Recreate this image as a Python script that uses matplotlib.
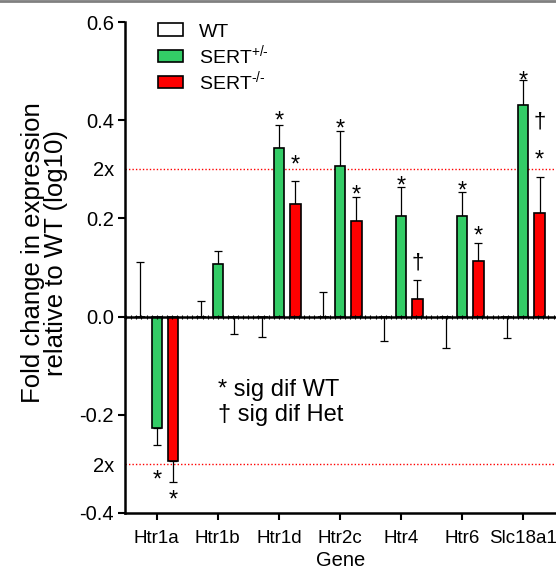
import numpy as np
import matplotlib
matplotlib.use('Agg')
import matplotlib.pyplot as plt
from matplotlib.lines import Line2D
from matplotlib.ticker import MultipleLocator, NullFormatter

plt.rcParams['font.family'] = ['Liberation Sans', 'DejaVu Sans']
plt.rcParams['mathtext.fontset'] = 'custom'
plt.rcParams['mathtext.rm'] = 'Liberation Sans'
plt.rcParams['axes.unicode_minus'] = False

genes = ['Htr1a', 'Htr1b', 'Htr1d', 'Htr2c', 'Htr4', 'Htr6', 'Slc18a1']
# log10 fold change; signed error = one-sided bar direction
wt_mean = [0, 0, 0, 0, 0, 0, 0]
wt_err = [0.112, 0.031, -0.041, 0.051, -0.050, -0.063, -0.043]
het_mean = [-0.227, 0.107, 0.344, 0.307, 0.205, 0.205, 0.430]
het_err = [-0.034, 0.026, 0.046, 0.071, 0.059, 0.048, 0.051]
ko_mean = [-0.295, 0.0, 0.229, 0.195, 0.035, 0.113, 0.210]
ko_err = [-0.041, -0.035, 0.048, 0.049, 0.039, 0.036, 0.074]

# significance marks: (gene index, group, y level, symbol)
marks = [
    (0, 'het', -0.318, '*'), (0, 'ko', -0.359, '*'),
    (2, 'het', 0.412, '*'), (2, 'ko', 0.324, '*'),
    (3, 'het', 0.396, '*'), (3, 'ko', 0.262, '*'),
    (4, 'het', 0.280, '*'), (4, 'ko', 0.110, '\u2020'),
    (5, 'het', 0.271, '*'), (5, 'ko', 0.178, '*'),
    (6, 'het', 0.494, '*'), (6, 'ko', 0.334, '*'), (6, 'ko', 0.396, '\u2020'),
]

two_fold = np.log10(2)

COLORS = {'wt': 'white', 'het': '#33cc66', 'ko': '#ff0000'}
OFFSET = {'wt': -0.27, 'het': 0.0, 'ko': 0.27}
LABELS = {'wt': 'WT', 'het': '$\\mathregular{SERT^{+/\u2010}}$', 'ko': '$\\mathregular{SERT^{\u2010/\u2010}}$'}
WIDTH = 0.17

fig = plt.figure(figsize=(5.56, 5.69), dpi=100)
ax = fig.add_axes([125 / 556, 56 / 569, 431 / 556, 491 / 569])

x = np.arange(len(genes))
data = {'wt': (wt_mean, wt_err), 'het': (het_mean, het_err), 'ko': (ko_mean, ko_err)}
handles = []
for key, (mean, err) in data.items():
    err = np.array(err)
    lo = np.where(err < 0, -err, 0)
    hi = np.where(err > 0, err, 0)
    xs = x + OFFSET[key]
    ax.errorbar(xs, mean, yerr=[lo, hi], fmt='none', ecolor='black',
                elinewidth=0.9, capsize=3, capthick=0.9, zorder=2)
    b = ax.bar(xs, mean, WIDTH, color=COLORS[key], edgecolor='black',
               linewidth=1.2, label=LABELS[key], zorder=3)
    handles.append(b)

for gi, grp, yv, sym in marks:
    fs = 17 if sym == '*' else 16
    dy = -0.32 * fs if sym == '*' else 0
    ax.annotate(sym, (x[gi] + OFFSET[grp], yv), xytext=(0, dy),
                textcoords='offset points', ha='center', va='center',
                fontsize=fs, zorder=5)

# 2-fold reference lines
for yv in (two_fold, -two_fold):
    ax.axhline(yv, color='red', ls=(0, (1, 1.5)), lw=1.0, zorder=1)

ax.text(1.0, -0.175, '* sig dif WT\n\u2020 sig dif Het',
        fontsize=17, ha='left', va='center', linespacing=1.15)

# zero line with small tick marks
ax0 = ax.twiny()
for s in ['top', 'right', 'left']:
    ax0.spines[s].set_visible(False)
ax0.spines['bottom'].set_position(('data', 0))
ax0.spines['bottom'].set_linewidth(1.8)
ax0.xaxis.set_ticks_position('bottom')
ax0.set_xlim(-0.52, 6.54)
ax0.xaxis.set_major_locator(MultipleLocator(1))
ax0.xaxis.set_minor_locator(MultipleLocator(1 / 12))
ax0.xaxis.set_major_formatter(NullFormatter())
ax0.tick_params(axis='x', which='both', direction='inout', length=3.5, width=0.8)
ax0.set_yticks([])

ax.set_xlim(-0.52, 6.54)
ax.set_ylim(-0.4, 0.6)
ax.set_xticks(x)
ax.set_xticklabels(genes, fontsize=13.5)
yt = [-0.4, -two_fold, -0.2, 0.0, 0.2, two_fold, 0.4, 0.6]
ax.set_yticks(yt)
ax.set_yticklabels(['-0.4', '2x', '-0.2', '0.0', '0.2', '2x', '0.4', '0.6'], fontsize=14.5)
for t, v in zip(ax.yaxis.get_major_ticks(), yt):
    if abs(abs(v) - two_fold) < 1e-6:
        t.tick1line.set_visible(False)
ax.tick_params(direction='out', length=5, width=1.5, pad=3)
ax.tick_params(axis='x', pad=7)

ax.spines['top'].set_visible(False)
ax.spines['right'].set_visible(False)
ax.spines['left'].set_linewidth(1.8)
ax.spines['bottom'].set_linewidth(1.8)

ax.set_xlabel('Gene', fontsize=14.5, labelpad=3)
ax.set_ylabel('Fold change in expression\nrelative to WT (log10)', fontsize=18.5, linespacing=0.95)
ax.yaxis.set_label_coords(-0.133, 0.53)

ax.legend(handles=handles, loc='upper left', bbox_to_anchor=(0.077, 0.997), frameon=False,
          fontsize=14, handlelength=1.3, handleheight=0.6, handletextpad=0.8,
          labelspacing=0.12, borderpad=0, borderaxespad=0)

fig.add_artist(Line2D([0, 1], [0.999, 0.999], transform=fig.transFigure, color='gray', lw=2))

fig.savefig('out.png', dpi=100)
